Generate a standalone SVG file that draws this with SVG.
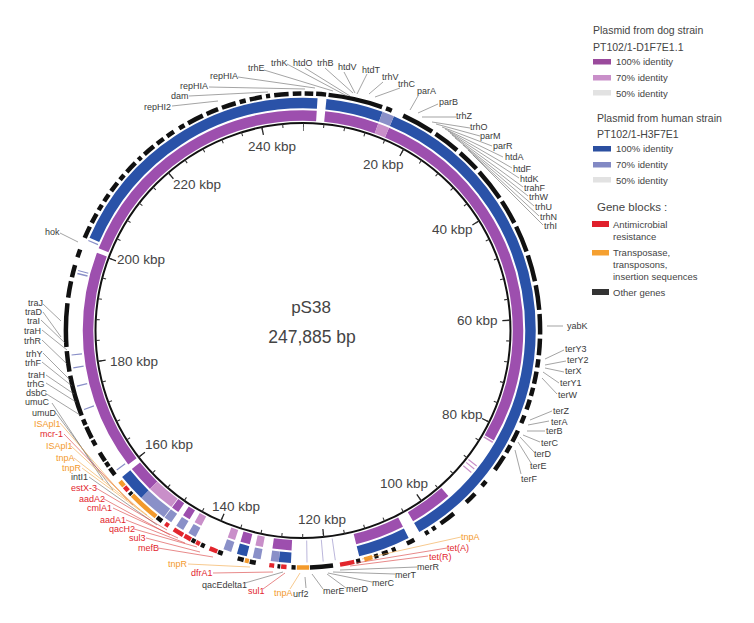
<svg xmlns="http://www.w3.org/2000/svg" width="754" height="623" viewBox="0 0 754 623">
<style>
text{font-family:"Liberation Sans",Arial,sans-serif}
.t{font-size:9px;fill:#3a3a3a}
.r{fill:#e2262d}
.o{fill:#f39a2c}
.ax{font-size:13.5px;fill:#444}
.lg{font-size:10.5px;fill:#444}
.li{font-size:9.5px;fill:#444}
.ld{stroke:#666;stroke-width:0.6;fill:none}
.ldr{stroke:#d83a3a;stroke-width:0.6}
.ldo{stroke:#f2a541;stroke-width:0.6}
.ring{fill:none}
</style>
<rect width="754" height="623" fill="#fff"/>

<g id="map">
  <path class="ring" pathLength="360" stroke="#9d4fae" stroke-width="10.5" stroke-dasharray="3.6 2.2 14.2 3 97 18.7 11.3 3 13 17 5 6 2.5 14.5 2 1.5 2 7.5 7 1.5 58.2 1.2 68.1 0" d="M303,115.5 A215,215 0 1 1 303,545.5 A215,215 0 1 1 303,115.5"/>
  <path class="ring" pathLength="360" stroke="#c98fc9" stroke-width="10.5" stroke-dasharray="0 20 3 97.3 0.4 7.1 0.3 0.7 0.3 0.9 0.3 60.2 2 5.5 2 7.5 2 7.2 7.3 136" d="M303,115.5 A215,215 0 1 1 303,545.5 A215,215 0 1 1 303,115.5"/>
  <path class="ring" pathLength="360" stroke="#2a52a8" stroke-width="10.5" stroke-dasharray="3.6 2.2 14.2 3 127 3 13 17 3 8 2.5 27.5 7 62.5 66.5 0" d="M303,103 A227.5,227.5 0 1 1 303,558 A227.5,227.5 0 1 1 303,103"/>
  <path class="ring" pathLength="360" stroke="#8a90c8" stroke-width="10.5" stroke-dasharray="0 20 3 163 2 2.5 2 5.5 2 7.5 2 1.5 2 1.5 2 0.2 7.3 9 0.3 16.7 0.3 5.7 0.3 4.3 0.3 2.9 0.3 19.9 0.4 0.4 0.3 7.5 0.3 67.1" d="M303,103 A227.5,227.5 0 1 1 303,558 A227.5,227.5 0 1 1 303,103"/>
  <line x1="332.2" y1="538.5" x2="335.3" y2="560.2" stroke="#a9a3d2" stroke-width="0.8"/>
  <line x1="321.3" y1="539.7" x2="323.2" y2="561.6" stroke="#a9a3d2" stroke-width="0.8"/>
  <line x1="306.7" y1="540.5" x2="307" y2="562.5" stroke="#a9a3d2" stroke-width="0.8"/>
  <path class="ring" pathLength="360" stroke="#111" stroke-width="4.5" stroke-dasharray="0 0.4 2.1 0.7 2.4 0.6 13.3 1 1.5 3 8 1 6.5 1 5.5 1 8 1 6 1 6.5 1 6.5 1 6 1 5 1 4 1 2 1 3 1 2 1 2.5 1.5 2 2 3 1 2 1 4 3.5 1.5 2.5 3 4 4 1.5 1 1 1 3 2 3 1 1 1.5 1 1 3.5 1 5.7 5.6 3.5 1 2.7 0.7 5.3 1.5 1.5 1.5 3.8 1.2 3.5 1 1.5 1 8.5 1.5 8.2 0.8 5.5 2 0.5 1.2 0.4 2.4 2 1.5 0.5 3 0.5 1.5 1 10 1 5 1 10.6 1.4 4 1 3 2 2 3 3 1 2.5 1 1.5 1 2 1 2.5 1 1.5 1 3 1 1 1 3 1 2 1 2 1.5 1.5 1 4 1 3 1 3.5 1 1.5 1 3 1 1 1 3.5 1 2.1 0.4" d="M303,93.5 A237,237 0 1 1 303,567.5 A237,237 0 1 1 303,93.5"/>
  <path class="ring" pathLength="360" stroke="#e2262d" stroke-width="4.5" stroke-dasharray="0 167.5 3.5 13 1.3 1.7 1.2 13 2 2.6 1 1.4 1.8 0.4 2.6 1.5 1 12 1.3 131.2" d="M303,93.5 A237,237 0 1 1 303,567.5 A237,237 0 1 1 303,93.5"/>
  <path class="ring" pathLength="360" stroke="#f39a2c" stroke-width="4.5" stroke-dasharray="0 163 2 13.5 3 11.7 1 24.1 7.7 3 1.5 129.5" d="M303,93.5 A237,237 0 1 1 303,567.5 A237,237 0 1 1 303,93.5"/>
  <path class="ring" stroke="#111" stroke-width="2" d="M303,123 A207.5,207.5 0 1 1 303,538 A207.5,207.5 0 1 1 303,123"/>
  <path class="ring" pathLength="247.885" stroke="#222" stroke-width="8" stroke-dasharray="0.25 19.75" stroke-dashoffset="0.125" d="M303,127 A203.5,203.5 0 1 1 303,534 A203.5,203.5 0 1 1 303,127"/>
  <path class="ring" pathLength="247.885" stroke="#333" stroke-width="4" stroke-dasharray="0.2 3.8" stroke-dashoffset="0.1" d="M303,125 A205.5,205.5 0 1 1 303,536 A205.5,205.5 0 1 1 303,125"/>
</g>

<g id="scale">
  <text class="ax" x="363" y="169">20 kbp</text>
  <text class="ax" x="432" y="234">40 kbp</text>
  <text class="ax" x="457" y="325">60 kbp</text>
  <text class="ax" x="442" y="419">80 kbp</text>
  <text class="ax" x="380" y="488">100 kbp</text>
  <text class="ax" x="298" y="524">120 kbp</text>
  <text class="ax" x="212" y="511">140 kbp</text>
  <text class="ax" x="145" y="449">160 kbp</text>
  <text class="ax" x="110" y="366">180 kbp</text>
  <text class="ax" x="117" y="264">200 kbp</text>
  <text class="ax" x="173" y="189">220 kbp</text>
  <text class="ax" x="248" y="151">240 kbp</text>
</g>

<g id="title">
  <text x="311" y="313" font-size="17" fill="#444" text-anchor="middle">pS38</text>
  <text x="312" y="343" font-size="17.5" fill="#444" text-anchor="middle">247,885 bp</text>
</g>

<g id="connectors">
  <g class="ld">
    <line x1="172" y1="106" x2="218" y2="101"/>
    <line x1="189" y1="96" x2="268" y2="92"/>
    <line x1="209" y1="87" x2="305" y2="89"/>
    <line x1="238" y1="77" x2="315" y2="88"/>
    <line x1="264" y1="70" x2="333" y2="91"/>
    <line x1="287" y1="64" x2="347" y2="96"/>
    <line x1="305" y1="68" x2="350" y2="96"/>
    <line x1="325" y1="68" x2="353" y2="93"/>
    <line x1="344" y1="72" x2="355" y2="93"/>
    <line x1="367" y1="74" x2="357" y2="94"/>
    <line x1="383" y1="82" x2="369" y2="94"/>
    <line x1="400" y1="88" x2="375" y2="97"/>
    <line x1="418" y1="96" x2="410" y2="110"/>
    <line x1="438" y1="104" x2="418" y2="113"/>
    <line x1="456" y1="117" x2="422" y2="117"/>
    <line x1="470" y1="128" x2="432" y2="122"/>
    <line x1="480" y1="136" x2="436" y2="124"/>
    <line x1="492" y1="146" x2="442" y2="127"/>
    <line x1="503" y1="157" x2="445" y2="129"/>
    <line x1="512" y1="168" x2="448" y2="131"/>
    <line x1="519" y1="178" x2="450" y2="133"/>
    <line x1="523" y1="187" x2="452" y2="135"/>
    <line x1="528" y1="196" x2="455" y2="138"/>
    <line x1="534" y1="206" x2="463" y2="145"/>
    <line x1="539" y1="216" x2="468" y2="150"/>
    <line x1="543" y1="225" x2="473" y2="155"/>
    <line x1="547" y1="326" x2="563" y2="326"/>
    <line x1="545" y1="359" x2="564" y2="350"/>
    <line x1="545" y1="365" x2="566" y2="361"/>
    <line x1="545" y1="368" x2="564" y2="372"/>
    <line x1="543" y1="372" x2="559" y2="383"/>
    <line x1="542" y1="378" x2="557" y2="394"/>
    <line x1="530" y1="420" x2="552" y2="411"/>
    <line x1="528" y1="425" x2="549" y2="421"/>
    <line x1="527" y1="431" x2="545" y2="431"/>
    <line x1="523" y1="435" x2="540" y2="442"/>
    <line x1="520" y1="437" x2="534" y2="452"/>
    <line x1="518" y1="442" x2="531" y2="463"/>
    <line x1="515" y1="450" x2="521" y2="474"/>
    <line x1="417" y1="567" x2="340" y2="570"/>
    <line x1="395" y1="574" x2="333" y2="572"/>
    <line x1="372" y1="582" x2="328" y2="573"/>
    <line x1="346" y1="588" x2="327" y2="574"/>
    <line x1="323" y1="589" x2="312" y2="574"/>
    <line x1="306" y1="588" x2="305" y2="577"/>
    <line x1="245" y1="583" x2="283" y2="572"/>
    <line x1="89" y1="477" x2="157" y2="525"/>
    <line x1="56" y1="413" x2="113" y2="490"/>
    <line x1="52" y1="403" x2="103" y2="480"/>
    <line x1="45" y1="393" x2="80" y2="415"/>
    <line x1="46" y1="383" x2="76" y2="402"/>
    <line x1="46" y1="375" x2="74" y2="394"/>
    <line x1="42" y1="362" x2="72" y2="386"/>
    <line x1="43" y1="353" x2="70" y2="380"/>
    <line x1="42" y1="340" x2="67" y2="364"/>
    <line x1="42" y1="330" x2="67" y2="350"/>
    <line x1="41" y1="320" x2="65" y2="343"/>
    <line x1="43" y1="312" x2="61" y2="337"/>
    <line x1="43" y1="304" x2="61" y2="321"/>
    <line x1="60" y1="233" x2="78" y2="242"/>
  </g>
  <g class="ldr">
    <line x1="447" y1="548" x2="356" y2="563"/>
    <line x1="428" y1="556" x2="350" y2="566"/>
    <line x1="263" y1="589" x2="285" y2="573"/>
    <line x1="213" y1="573" x2="273" y2="572"/>
    <line x1="158" y1="548" x2="213" y2="557"/>
    <line x1="146" y1="538" x2="200" y2="552"/>
    <line x1="134" y1="529" x2="197" y2="547"/>
    <line x1="126" y1="520" x2="185" y2="543"/>
    <line x1="113" y1="508" x2="178" y2="538"/>
    <line x1="104" y1="499" x2="170" y2="535"/>
    <line x1="96" y1="488" x2="167" y2="530"/>
    <line x1="64" y1="434" x2="133" y2="505"/>
  </g>
  <g class="ldo">
    <line x1="461" y1="537" x2="362" y2="559"/>
    <line x1="290" y1="589" x2="300" y2="573"/>
    <line x1="188" y1="564" x2="250" y2="567"/>
    <line x1="82" y1="468" x2="153" y2="520"/>
    <line x1="74" y1="458" x2="147" y2="515"/>
    <line x1="71" y1="446" x2="140" y2="510"/>
    <line x1="60" y1="423" x2="127" y2="500"/>
  </g>
</g>

<g id="gene-labels">
  <text class="t" x="144" y="110">repHI2</text>
  <text class="t" x="171" y="99">dam</text>
  <text class="t" x="180" y="89">repHIA</text>
  <text class="t" x="210" y="79">repHIA</text>
  <text class="t" x="248" y="71">trhE</text>
  <text class="t" x="271" y="66">trhK</text>
  <text class="t" x="293" y="66">htdO</text>
  <text class="t" x="317" y="66">trhB</text>
  <text class="t" x="338" y="70">htdV</text>
  <text class="t" x="362" y="73">htdT</text>
  <text class="t" x="382" y="80">trhV</text>
  <text class="t" x="398" y="87">trhC</text>
  <text class="t" x="417" y="94">parA</text>
  <text class="t" x="439" y="105">parB</text>
  <text class="t" x="456" y="119">trhZ</text>
  <text class="t" x="470" y="130">trhO</text>
  <text class="t" x="480" y="139">parM</text>
  <text class="t" x="493" y="149">parR</text>
  <text class="t" x="505" y="160">htdA</text>
  <text class="t" x="513" y="172">htdF</text>
  <text class="t" x="520" y="182">htdK</text>
  <text class="t" x="524" y="191">trahF</text>
  <text class="t" x="529" y="200">trhW</text>
  <text class="t" x="535" y="210">trhU</text>
  <text class="t" x="540" y="220">trhN</text>
  <text class="t" x="544" y="229">trhI</text>
  <text class="t" x="567" y="329">yabK</text>
  <text class="t" x="565" y="352">terY3</text>
  <text class="t" x="567" y="363">terY2</text>
  <text class="t" x="565" y="374">terX</text>
  <text class="t" x="560" y="386">terY1</text>
  <text class="t" x="558" y="398">terW</text>
  <text class="t" x="553" y="414">terZ</text>
  <text class="t" x="551" y="425">terA</text>
  <text class="t" x="546" y="434">terB</text>
  <text class="t" x="541" y="446">terC</text>
  <text class="t" x="534" y="457">terD</text>
  <text class="t" x="530" y="469">terE</text>
  <text class="t" x="521" y="482">terF</text>
  <text class="t o" x="461" y="540">tnpA</text>
  <text class="t r" x="447" y="551">tet(A)</text>
  <text class="t r" x="429" y="559.5">tet(R)</text>
  <text class="t" x="417" y="570">merR</text>
  <text class="t" x="395" y="578">merT</text>
  <text class="t" x="372" y="585.5">merC</text>
  <text class="t" x="346" y="592">merD</text>
  <text class="t" x="323" y="594">merE</text>
  <text class="t" x="293" y="597">urf2</text>
  <text class="t o" x="274" y="596">tnpA</text>
  <text class="t r" x="248" y="594">sul1</text>
  <text class="t" x="202" y="588">qacEdelta1</text>
  <text class="t r" x="191" y="576">dfrA1</text>
  <text class="t o" x="168" y="567">tnpR</text>
  <text class="t r" x="138" y="551">mefB</text>
  <text class="t r" x="129" y="541">sul3</text>
  <text class="t r" x="109" y="532">qacH2</text>
  <text class="t r" x="100" y="523">aadA1</text>
  <text class="t r" x="87" y="511">cmlA1</text>
  <text class="t r" x="79" y="502">aadA2</text>
  <text class="t r" x="71" y="491">estX-3</text>
  <text class="t" x="71" y="480">intI1</text>
  <text class="t o" x="62" y="471">tnpR</text>
  <text class="t o" x="56" y="461">tnpA</text>
  <text class="t o" x="46" y="449">ISApl1</text>
  <text class="t r" x="40" y="437">mcr-1</text>
  <text class="t o" x="34" y="427">ISApl1</text>
  <text class="t" x="32" y="416">umuD</text>
  <text class="t" x="25" y="405">umuC</text>
  <text class="t" x="26" y="396">dsbC</text>
  <text class="t" x="27" y="387">trhG</text>
  <text class="t" x="28" y="378">traH</text>
  <text class="t" x="25" y="366">trhF</text>
  <text class="t" x="26" y="357">trhY</text>
  <text class="t" x="24" y="344">trhR</text>
  <text class="t" x="24" y="334">traH</text>
  <text class="t" x="27" y="324">traI</text>
  <text class="t" x="25" y="315">traD</text>
  <text class="t" x="28" y="306">traJ</text>
  <text class="t" x="45" y="235">hok</text>
</g>

<g id="legend">
  <text class="lg" x="593" y="34">Plasmid from dog strain</text>
  <text class="lg" x="593" y="51">PT102/1-D1F7E1.1</text>
  <rect x="593" y="59" width="18" height="5.5" fill="#9a4a9c"/>
  <text class="li" x="616" y="65">100% identity</text>
  <rect x="593" y="75" width="18" height="5.5" fill="#c98fc9"/>
  <text class="li" x="616" y="81">70% identity</text>
  <rect x="593" y="90" width="18" height="5.5" fill="#e2e2e2"/>
  <text class="li" x="616" y="97">50% identity</text>
  <text class="lg" x="597" y="122">Plasmid from human strain</text>
  <text class="lg" x="597" y="138">PT102/1-H3F7E1</text>
  <rect x="593" y="146" width="18" height="5.5" fill="#2b4fa0"/>
  <text class="li" x="616" y="152">100% identity</text>
  <rect x="593" y="162" width="18" height="5.5" fill="#8289c4"/>
  <text class="li" x="616" y="168">70% identity</text>
  <rect x="593" y="177" width="18" height="5.5" fill="#e2e2e2"/>
  <text class="li" x="616" y="184">50% identity</text>
  <text x="597" y="211" font-size="11.5" fill="#444">Gene blocks :</text>
  <rect x="592" y="221" width="17" height="6" fill="#e0202c"/>
  <text class="li" x="613" y="228">Antimicrobial</text>
  <text class="li" x="613" y="240">resistance</text>
  <rect x="592" y="250" width="17" height="5.5" fill="#f5a030"/>
  <text class="li" x="613" y="256">Transposase,</text>
  <text class="li" x="613" y="268">transposons,</text>
  <text class="li" x="613" y="280">insertion sequences</text>
  <rect x="592" y="289" width="17" height="6" fill="#333"/>
  <text class="li" x="613" y="296">Other genes</text>
</g>
</svg>
